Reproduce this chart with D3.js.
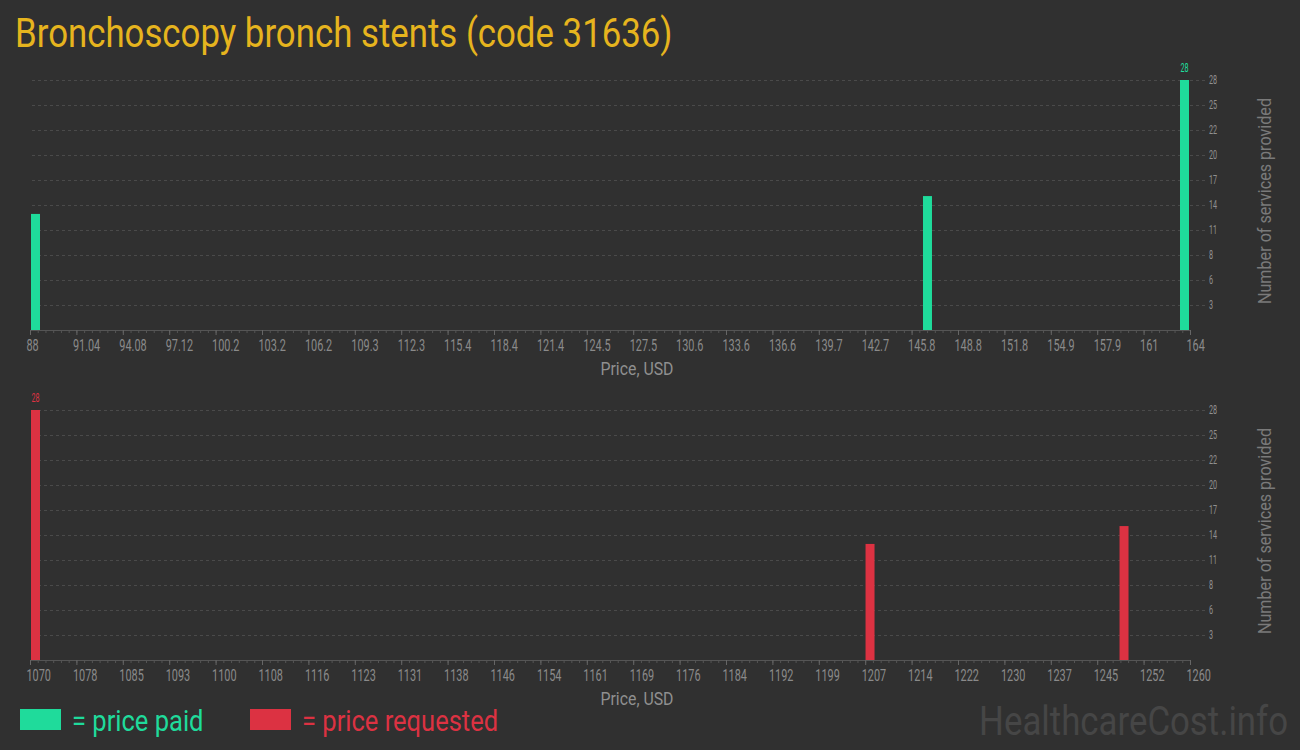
<!DOCTYPE html>
<html>
<head>
<meta charset="utf-8">
<script src="https://cdn.jsdelivr.net/npm/d3@7"></script>
<style>
  body { margin: 0; background: #303030; }
  svg { display: block; }
</style>
</head>
<body>
<div id="chart"></div>
<script>
// data
const paidPrices = [88, 147, 164];
const paidCounts = [13, 15, 28];
const requestedPrices = [1070, 1208, 1250];
const requestedCounts = [28, 13, 15];

const paidTicks = [88, 91.04, 94.08, 97.12, 100.16, 103.2, 106.24, 109.28, 112.32, 115.36, 118.4, 121.44, 124.48,
  127.52, 130.56, 133.6, 136.64, 139.68, 142.72, 145.76, 148.8, 151.84, 154.88, 157.92, 160.96, 164];
const requestedTicks = [1070, 1077.6, 1085.2, 1092.8, 1100.4, 1108, 1115.6, 1123.2, 1130.8, 1138.4, 1146, 1153.6,
  1161.2, 1168.8, 1176.4, 1184, 1191.6, 1199.2, 1206.8, 1214.4, 1222, 1229.6, 1237.2, 1244.8, 1252.4, 1260];
const countTicks = [2.8, 5.6, 8.4, 11.2, 14, 16.8, 19.6, 22.4, 25.2, 28];
const countMax = 28;

const width = 1300, height = 750;
const green = "#1fdb9b", red = "#dc3242";
const font = "Roboto, 'Open Sans', sans-serif";

const svg = d3.select("#chart")
  .append("svg")
  .attr("width", width)
  .attr("height", height)
  .style("font-family", font);

svg.append("rect").attr("width", width).attr("height", height).attr("fill", "#303030");

// Title
svg.append("text")
  .attr("transform", "translate(15,47) scale(0.87,1)")
  .attr("fill", "#e6b41e")
  .style("font-size", "40px")
  .text("Bronchoscopy bronch stents (code 31636)");

const fmt = d3.format(".4~r");

function drawPanel(prices, counts, ticks, color, top, base) {
  const g = svg.append("g");

  const x = d3.scaleLinear().domain([ticks[0], ticks[ticks.length - 1]]).range([30, 1190]);
  // bars sit inside the axis, so the last one ends at the axis end
  const xb = d3.scaleLinear().domain(x.domain()).range([31, 1180]);
  const y = d3.scaleLinear().domain([0, countMax]).range([base, top]);
  const barW = 9;

  // grid + right axis
  const yAxis = g.append("g")
    .attr("transform", "translate(1205,0)")
    .call(d3.axisRight(y).tickValues(countTicks).tickSize(-1173).tickFormat(d => Math.round(d)));
  yAxis.select(".domain").remove();
  yAxis.selectAll("line").attr("stroke", "#4a4a4a").attr("stroke-dasharray", "3,3");
  yAxis.selectAll("text")
    .attr("x", 4 / 0.6)
    .attr("transform", "scale(0.6,1)")
    .attr("fill", "#909090")
    .style("font-size", "12px")
    .style("font-family", font);

  // minor ticks
  const step = (ticks[1] - ticks[0]) / 6;
  const minor = d3.range(0, (ticks.length - 1) * 6 + 1).map(i => ticks[0] + i * step);
  const minorAxis = g.append("g")
    .attr("transform", `translate(0,${base})`)
    .call(d3.axisBottom(x).tickValues(minor).tickSize(3).tickFormat(""));
  minorAxis.select(".domain").remove();
  minorAxis.selectAll("line").attr("stroke", "#555");

  // major axis
  const xAxis = g.append("g")
    .attr("transform", `translate(0,${base})`)
    .call(d3.axisBottom(x).tickValues(ticks).tickSize(5).tickSizeOuter(0).tickFormat(fmt));
  xAxis.select(".domain").attr("stroke", "#555");
  xAxis.selectAll("line").attr("stroke", "#666");
  xAxis.selectAll("text")
    .attr("text-anchor", "start")
    .attr("x", -4 / 0.68)
    .attr("y", 10)
    .attr("transform", "scale(0.68,1)")
    .attr("fill", "#8a8a8a")
    .style("font-size", "16px")
    .style("font-family", font);

  // bars
  const data = prices.map((p, i) => ({ price: p, count: counts[i] }));
  g.selectAll(".bar")
    .data(data)
    .enter()
    .append("rect")
    .attr("class", "bar")
    .attr("x", d => xb(d.price))
    .attr("y", d => y(d.count))
    .attr("width", barW)
    .attr("height", d => base - y(d.count))
    .attr("fill", color);

  // value label on the tallest bar
  const maxD = data.reduce((a, b) => (b.count > a.count ? b : a));
  g.append("text")
    .attr("transform", `translate(${xb(maxD.price) + barW / 2},${y(maxD.count) - 8}) scale(0.6,1)`)
    .attr("text-anchor", "middle")
    .attr("fill", color)
    .style("font-size", "12px")
    .text(maxD.count);

  // axis titles
  g.append("text")
    .attr("transform", `translate(637,${base + 45}) scale(0.88,1)`)
    .attr("text-anchor", "middle")
    .attr("fill", "#8f8f8f")
    .style("font-size", "18px")
    .text("Price, USD");

  g.append("text")
    .attr("transform", `translate(1271,${base - 129}) rotate(-90) scale(0.85,1)`)
    .attr("text-anchor", "middle")
    .attr("fill", "#7a7a7a")
    .style("font-size", "19px")
    .text("Number of services provided");
}

drawPanel(paidPrices, paidCounts, paidTicks, green, 80, 330);
drawPanel(requestedPrices, requestedCounts, requestedTicks, red, 410, 660);

// Legend
const legend = [
  { label: "= price paid", color: green, x: 20 },
  { label: "= price requested", color: red, x: 250 }
];
legend.forEach(l => {
  svg.append("rect")
    .attr("x", l.x).attr("y", 709).attr("width", 41).attr("height", 21)
    .attr("fill", l.color);
  svg.append("text")
    .attr("transform", `translate(${l.x + 52},731) scale(0.88,1)`)
    .attr("fill", l.color)
    .style("font-size", "29px")
    .text(l.label);
});

// Watermark
svg.append("text")
  .attr("transform", "translate(1288,735) scale(0.87,1)")
  .attr("text-anchor", "end")
  .attr("fill", "#464646")
  .style("font-size", "40px")
  .text("HealthcareCost.info");
</script>
</body>
</html>
